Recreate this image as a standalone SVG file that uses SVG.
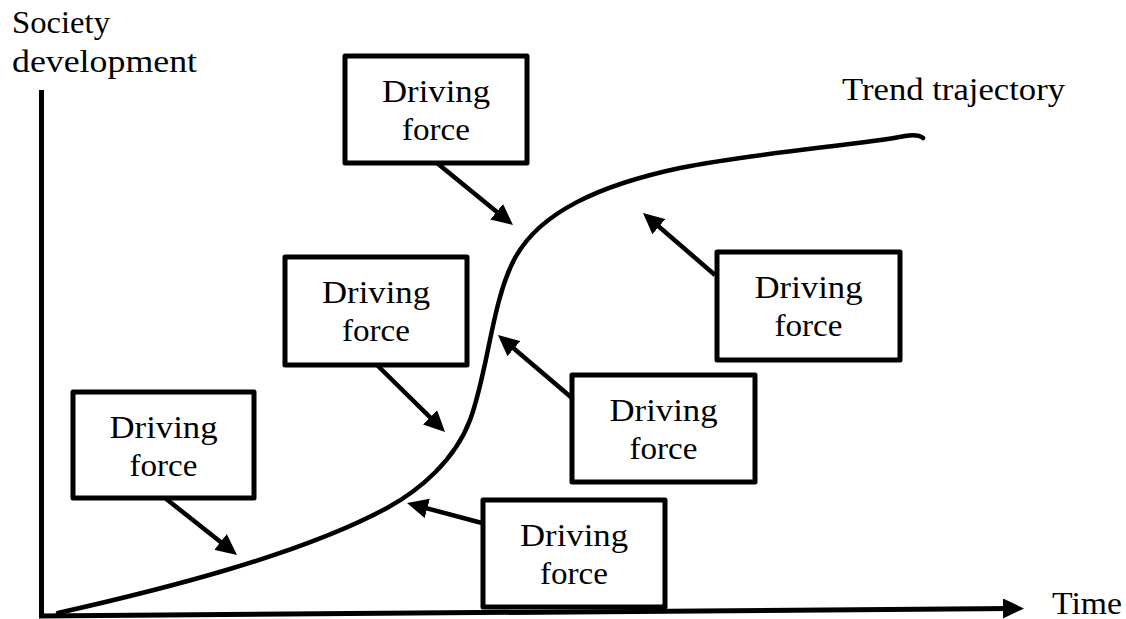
<svg xmlns="http://www.w3.org/2000/svg" width="1126" height="619" viewBox="0 0 1126 619">
<style>
  .box { fill: #fff; stroke: #000; stroke-width: 5; stroke-linejoin: round; }
  .lbl { font-family: "Liberation Serif", "Times New Roman", serif; font-size: 32px; fill: #000; }
  .mid { text-anchor: middle; }
  .arr { stroke: #000; stroke-width: 4.5; fill: none; marker-end: url(#ah); }
  .axis { stroke: #000; stroke-width: 5; fill: none; }
  .curve { stroke: #000; stroke-width: 4.5; fill: none; stroke-linecap: round; }
</style>
<defs>
  <marker id="ah" markerUnits="userSpaceOnUse" markerWidth="22" markerHeight="20" viewBox="0 0 22 20" refX="9" refY="10" orient="auto">
    <path d="M0,0 L21,10 L0,20 Z" fill="#000"/>
  </marker>
</defs>
<rect width="1126" height="619" fill="#fff"/>

<g id="axes">
  <line class="axis" x1="41.5" y1="90" x2="41.5" y2="617"/>
  <line class="axis" x1="39" y1="616" x2="1012" y2="608.5" marker-end="url(#ah)"/>
  <text class="lbl" x="12" y="33" textLength="98" lengthAdjust="spacingAndGlyphs">Society</text>
  <text class="lbl" x="12" y="72" textLength="185" lengthAdjust="spacingAndGlyphs">development</text>
  <text class="lbl" x="1052" y="614" textLength="70" lengthAdjust="spacingAndGlyphs">Time</text>
</g>

<g id="trend">
  <path class="curve" d="M58,613 C160,590 300,555 387,508 C420,490 455,460 470,420 C488,372 492,300 515,258 C540,212 600,185 680,168 C760,152 860,145 905,136 Q918,134 923,138"/>
  <text class="lbl" x="842" y="100" textLength="223" lengthAdjust="spacingAndGlyphs">Trend trajectory</text>
</g>

<g id="connectors">
  <line class="arr" x1="437" y1="163" x2="503.7" y2="217.4"/>
  <line class="arr" x1="715" y1="275" x2="652.1" y2="220.8"/>
  <line class="arr" x1="377" y1="365" x2="436.5" y2="423.6"/>
  <line class="arr" x1="572" y1="398" x2="507.1" y2="342.8"/>
  <line class="arr" x1="482" y1="523" x2="418.6" y2="506.1"/>
  <line class="arr" x1="165" y1="498" x2="227.6" y2="547.5"/>
</g>

<g id="node-top">
  <rect class="box" x="345" y="56" width="182" height="107"/>
  <text class="lbl mid" x="436" y="102" textLength="108" lengthAdjust="spacingAndGlyphs">Driving</text>
  <text class="lbl mid" x="436" y="140" textLength="68" lengthAdjust="spacingAndGlyphs">force</text>
</g>

<g id="node-right">
  <rect class="box" x="717" y="252" width="183" height="108"/>
  <text class="lbl mid" x="808.5" y="298" textLength="108" lengthAdjust="spacingAndGlyphs">Driving</text>
  <text class="lbl mid" x="808.5" y="336" textLength="68" lengthAdjust="spacingAndGlyphs">force</text>
</g>

<g id="node-midleft">
  <rect class="box" x="285" y="257" width="182" height="108"/>
  <text class="lbl mid" x="376" y="303" textLength="108" lengthAdjust="spacingAndGlyphs">Driving</text>
  <text class="lbl mid" x="376" y="341" textLength="68" lengthAdjust="spacingAndGlyphs">force</text>
</g>

<g id="node-midright">
  <rect class="box" x="572" y="375" width="183" height="107"/>
  <text class="lbl mid" x="663.5" y="421" textLength="108" lengthAdjust="spacingAndGlyphs">Driving</text>
  <text class="lbl mid" x="663.5" y="459" textLength="68" lengthAdjust="spacingAndGlyphs">force</text>
</g>

<g id="node-bottom">
  <rect class="box" x="483" y="500" width="182" height="107"/>
  <text class="lbl mid" x="574" y="546" textLength="108" lengthAdjust="spacingAndGlyphs">Driving</text>
  <text class="lbl mid" x="574" y="584" textLength="68" lengthAdjust="spacingAndGlyphs">force</text>
</g>

<g id="node-left">
  <rect class="box" x="73" y="392" width="181" height="106"/>
  <text class="lbl mid" x="163.5" y="438" textLength="108" lengthAdjust="spacingAndGlyphs">Driving</text>
  <text class="lbl mid" x="163.5" y="476" textLength="68" lengthAdjust="spacingAndGlyphs">force</text>
</g>
</svg>
